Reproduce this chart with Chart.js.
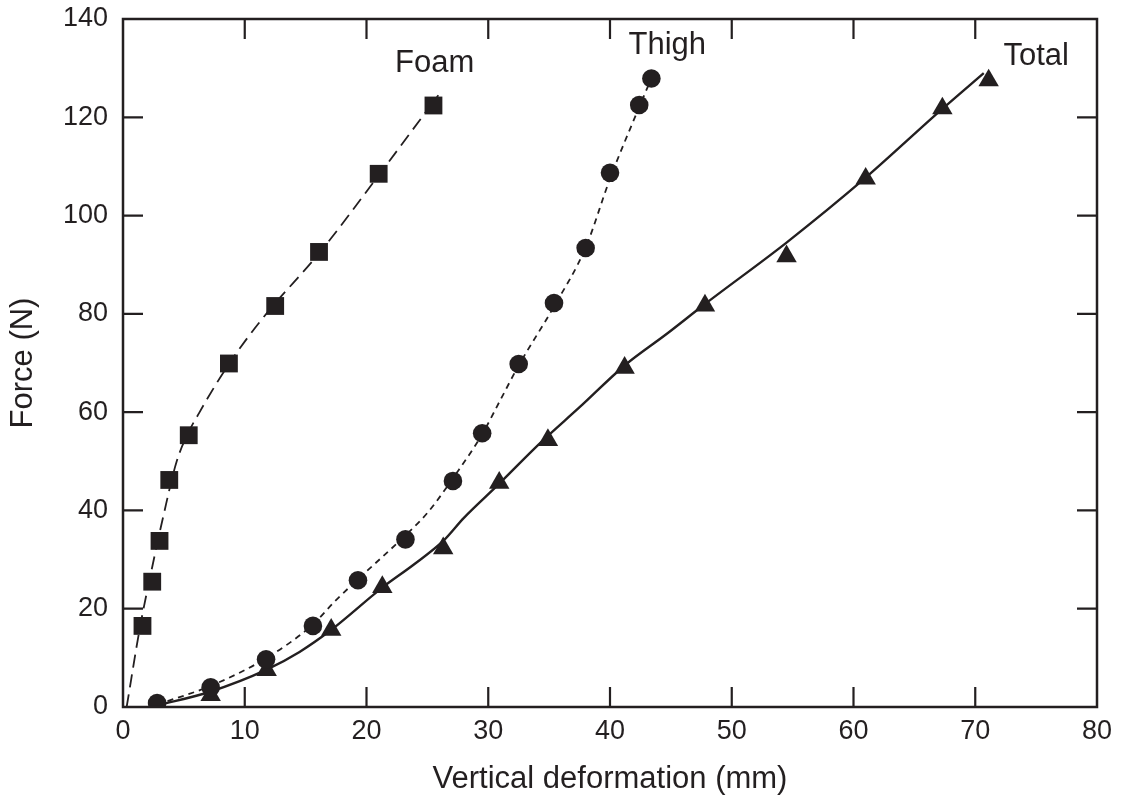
<!DOCTYPE html>
<html>
<head>
<meta charset="utf-8">
<script src="https://cdn.jsdelivr.net/npm/chart.js@4"></script>
<style>
  body { margin: 0; background: #fff; }
  #wrap { width: 1124px; height: 798px; position: relative; }
</style>
</head>
<body>
<div id="wrap"><canvas id="forceChart"></canvas></div>
<script>
// measured points (deformation in mm, force in N)
const foamX = [1.6, 2.4, 3.0, 3.8, 5.4, 8.7, 12.5, 16.1, 21.0, 25.5];
const foamY = [16.5, 25.5, 33.8, 46.2, 55.3, 69.9, 81.6, 92.6, 108.5, 122.4];
const thighX = [2.8, 7.2, 11.75, 15.6, 19.3, 23.2, 27.1, 29.5, 32.5, 35.4, 38.0, 40.0, 42.4, 43.4];
const thighY = [0.8, 4.0, 9.7, 16.5, 25.8, 34.1, 46.0, 55.7, 69.8, 82.2, 93.4, 108.7, 122.5, 127.9];
const totalX = [7.2, 11.8, 17.1, 21.3, 26.3, 30.9, 34.9, 41.2, 47.8, 54.5, 61.0, 67.3, 71.1];
const totalY = [2.4, 7.5, 15.7, 24.4, 32.3, 45.6, 54.3, 69.0, 81.7, 91.7, 107.5, 121.8, 127.5];

// fitted curves
const foamFitX = [0.3, 1.4, 2.4, 3.3, 4.4, 5.4, 6.27, 6.87, 8.38, 10.1, 11.9, 16.2, 21.0, 25.9];
const foamFitY = [0, 16.3, 28.5, 38.7, 49.9, 56, 59.9, 62.5, 68.6, 74.7, 80.4, 92.6, 108.2, 124.5];
const thighFitX = [2.8, 7.2, 11.8, 15.6, 17.4, 19.3, 22.5, 25.0, 27.4, 29.5, 31.0, 32.5, 35.4, 38.0, 40.0, 42.3, 43.5];
const thighFitY = [0.5, 4.3, 10, 16.8, 21.5, 26, 33.3, 39.5, 47.6, 55.5, 62.5, 69.5, 81.5, 93.5, 107.5, 121.5, 128.5];
const totalFitX = [2.8, 7.15, 11.8, 14.5, 17.0, 21.3, 24.0, 26.3, 28.0, 30.8, 34.3, 37.55, 41.2, 44.7, 47.8, 54.5, 60.9, 67.2, 70.7];
const totalFitY = [0.3, 3.1, 7.6, 11.2, 15.5, 24.3, 29.2, 33.8, 38.5, 45.2, 53.8, 61.1, 69.5, 76, 82, 94.5, 107.5, 121.5, 129];

const seriesNames = ["Foam", "Thigh", "Total"];
const nameAnchorX = [25.6, 44.7, 75.0];
const nameAnchorY = [131.0, 134.7, 132.4];

const INK = "#231f20";
const FONT = "'Liberation Sans', Arial, Helvetica, sans-serif";

function pts(xs, ys) {
  return xs.map((x, i) => ({ x: x, y: ys[i] }));
}

// frame box with inward ticks on all four sides, plus series names
const frameTicks = {
  id: "frameTicks",
  afterDatasetsDraw(chart) {
    const { ctx, chartArea: a, scales } = chart;
    const len = 20;
    ctx.save();
    ctx.strokeStyle = INK;
    ctx.lineWidth = 2.5;
    ctx.strokeRect(a.left, a.top, a.right - a.left, a.bottom - a.top);
    ctx.lineWidth = 2.2;
    ctx.beginPath();
    scales.x.ticks.forEach(t => {
      if (t.value <= scales.x.min || t.value >= scales.x.max) return;
      const px = scales.x.getPixelForValue(t.value);
      ctx.moveTo(px, a.bottom); ctx.lineTo(px, a.bottom - len);
      ctx.moveTo(px, a.top); ctx.lineTo(px, a.top + len);
    });
    scales.y.ticks.forEach(t => {
      if (t.value <= scales.y.min || t.value >= scales.y.max) return;
      const py = scales.y.getPixelForValue(t.value);
      ctx.moveTo(a.left, py); ctx.lineTo(a.left + len, py);
      ctx.moveTo(a.right, py); ctx.lineTo(a.right - len, py);
    });
    ctx.stroke();
    ctx.restore();
  },
  afterDraw(chart) {
    const { ctx, scales } = chart;
    ctx.save();
    ctx.fillStyle = INK;
    ctx.font = "31px " + FONT;
    ctx.textAlign = "center";
    ctx.textBaseline = "middle";
    seriesNames.forEach((name, i) => {
      ctx.fillText(name, scales.x.getPixelForValue(nameAnchorX[i]), scales.y.getPixelForValue(nameAnchorY[i]));
    });
    ctx.restore();
  }
};

const lineBase = {
  showLine: true,
  pointRadius: 0,
  borderColor: INK,
  fill: false,
  cubicInterpolationMode: "monotone"
};

const markerBase = {
  showLine: false,
  backgroundColor: INK,
  borderColor: INK,
  borderWidth: 0
};

new Chart(document.getElementById("forceChart").getContext("2d"), {
  type: "scatter",
  data: {
    datasets: [
      { ...markerBase, label: "Foam", data: pts(foamX, foamY), pointStyle: "rect", pointRadius: 12.6 },
      { ...markerBase, label: "Thigh", data: pts(thighX, thighY), pointStyle: "circle", pointRadius: 9.3 },
      { ...markerBase, label: "Total", data: pts(totalX, totalY), pointStyle: "triangle", pointRadius: 11.8 },
      { ...lineBase, label: "Foam fit", data: pts(foamFitX, foamFitY), borderWidth: 1.8, borderDash: [13, 7] },
      { ...lineBase, label: "Thigh fit", data: pts(thighFitX, thighFitY), borderWidth: 1.8, borderDash: [6, 5] },
      { ...lineBase, label: "Total fit", data: pts(totalFitX, totalFitY), borderWidth: 2.4 }
    ]
  },
  options: {
    responsive: true,
    maintainAspectRatio: false,
    animation: false,
    layout: { padding: { top: 19, right: 27, left: 0, bottom: 0 } },
    plugins: {
      legend: { display: false },
      tooltip: { enabled: false }
    },
    scales: {
      x: {
        type: "linear",
        min: 0,
        max: 80,
        afterFit: s => { s.height = 91; s.paddingLeft = 0; s.paddingRight = 0; },
        grid: { display: false, drawTicks: false },
        border: { display: false },
        ticks: { stepSize: 10, padding: 8, color: INK, font: { family: FONT, size: 27 } },
        title: {
          display: true,
          text: "Vertical deformation (mm)",
          color: INK,
          font: { family: FONT, size: 31 },
          padding: { top: 0, bottom: 0 }
        }
      },
      y: {
        type: "linear",
        min: 0,
        max: 140,
        afterFit: s => { s.width = 123; s.paddingTop = 0; s.paddingBottom = 0; },
        grid: { display: false, drawTicks: false },
        border: { display: false },
        ticks: { stepSize: 20, padding: 15, color: INK, font: { family: FONT, size: 27 } },
        title: {
          display: true,
          text: "Force (N)",
          color: INK,
          font: { family: FONT, size: 31 },
          padding: { top: 5, bottom: 0 }
        }
      }
    }
  },
  plugins: [frameTicks]
});
</script>
</body>
</html>
